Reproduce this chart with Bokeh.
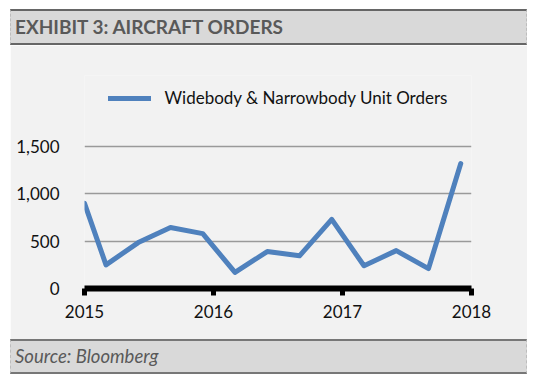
from bokeh.plotting import figure
from bokeh.models import Div, FixedTicker, NumeralTickFormatter, Legend, LegendItem, Range1d
from bokeh.layouts import column
from bokeh.embed import file_html
from bokeh.resources import INLINE

# ---- data ----
months = ["2015-01", "2015-03", "2015-06", "2015-09", "2015-12",
          "2016-03", "2016-06", "2016-09", "2016-12",
          "2017-03", "2017-06", "2017-09", "2017-12"]
orders = [900, 250, 485, 645, 580, 170, 390, 345, 730, 240, 400, 210, 1320]
x_ticks = [2015, 2016, 2017, 2018]
y_ticks = [0, 500, 1000, 1500]
title_text = "EXHIBIT 3: AIRCRAFT ORDERS"
source_text = "Source: Bloomberg"
series_name = "Widebody & Narrowbody Unit Orders"

xs = [int(m[:4]) + (int(m[5:7]) - 1) / 12 for m in months]

FONT = "Lato"

p = figure(width=517, height=294, output_backend="svg", toolbar_location=None,
           x_range=Range1d(2015, 2018), y_range=Range1d(0, 2250),
           min_border_left=74, min_border_right=56, min_border_top=30, min_border_bottom=51,
           margin=(0, 0, 0, 10))
p.background_fill_color = "#f2f2f2"
p.border_fill_color = "#f2f2f2"
p.outline_line_color = None

r = p.line(xs, orders, line_color="#4f81bd", line_width=5, line_join="round", line_cap="round")

# x axis
xa = p.xaxis[0]
xa.ticker = FixedTicker(ticks=x_ticks)
xa.axis_line_color = "black"
xa.axis_line_width = 6
xa.major_tick_line_color = "black"
xa.major_tick_line_width = 5
xa.major_tick_in = 0
xa.major_tick_out = 7
xa.minor_tick_line_color = None
xa.major_label_standoff = 9
xa.major_label_text_font = FONT
xa.major_label_text_font_size = "17px"
xa.major_label_text_color = "#111111"

# y axis
ya = p.yaxis[0]
ya.ticker = FixedTicker(ticks=y_ticks)
ya.formatter = NumeralTickFormatter(format="0,0")
ya.axis_line_color = None
ya.major_tick_line_color = None
ya.minor_tick_line_color = None
ya.major_label_standoff = 19
ya.major_label_text_font = FONT
ya.major_label_text_font_size = "17px"
ya.major_label_text_color = "#111111"

p.xgrid.visible = False
p.ygrid.ticker = FixedTicker(ticks=y_ticks)
p.ygrid.grid_line_color = "#9a9a9a"
p.ygrid.grid_line_width = 1.5

legend = Legend(items=[LegendItem(label=series_name, renderers=[r])],
                location="top_center", orientation="horizontal",
                background_fill_alpha=0, border_line_color=None,
                glyph_width=43, glyph_height=20, label_standoff=14,
                label_text_font=FONT, label_text_font_size="17px",
                label_text_color="#111111", padding=0, margin=12)
p.add_layout(legend, "center")

box_common = {
    "background-color": "#d9d9d9",
    "border-left": "1px dashed #bdbdbd",
    "border-right": "1px dashed #bdbdbd",
    "box-sizing": "border-box",
    "font-family": FONT,
    "color": "#595959",
    "padding-left": "4px",
}
header_styles = dict(box_common)
header_styles.update({"border-top": "2px solid #666666", "border-bottom": "2px solid #666666",
                      "font-weight": "bold", "font-size": "19px", "line-height": "32px"})
footer_styles = dict(box_common)
footer_styles.update({"border-top": "2px solid #777777", "border-bottom": "2px solid #777777",
                      "font-style": "italic", "font-size": "18.5px", "line-height": "31px"})

header = Div(text=title_text, width=517, height=36, styles=header_styles, margin=(9, 0, 0, 10))
footer = Div(text=source_text, width=517, height=35, styles=footer_styles, margin=(0, 0, 0, 10))

layout = column(header, p, footer, spacing=0, margin=0)

open("out.html", "w").write(file_html(layout, INLINE))
